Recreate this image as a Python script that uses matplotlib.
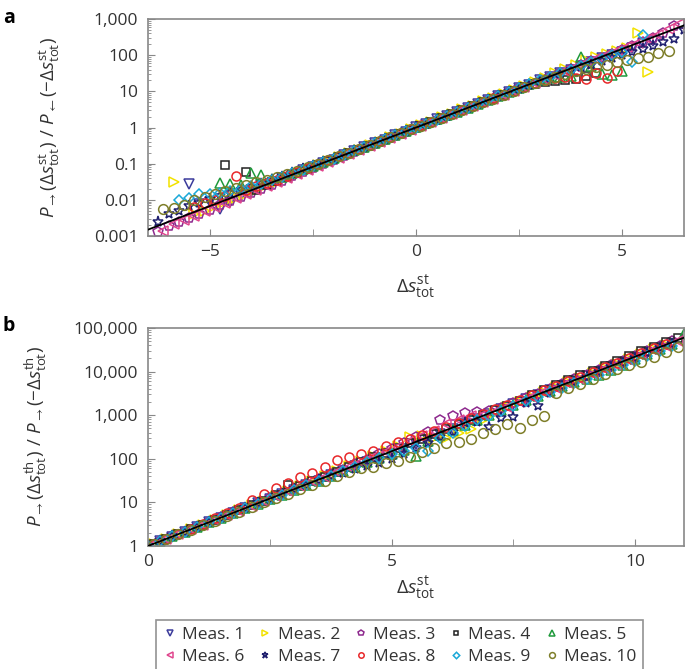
import numpy as np
import matplotlib
matplotlib.use("Agg")
import matplotlib.pyplot as plt
from matplotlib.ticker import LogLocator, FuncFormatter, NullFormatter

nan = np.nan

# ---- panel a : bin centres (two interleaved bin grids) ----
xa_A = [-6.25, -6.0, -5.75, -5.5, -5.25, -5.0, -4.75, -4.5, -4.25, -4.0,
        -3.75, -3.5, -3.25, -3.0, -2.75, -2.5, -2.25, -2.0, -1.75, -1.5,
        -1.25, -1.0, -0.75, -0.5, -0.25, 0.0, 0.25, 0.5, 0.75, 1.0,
        1.25, 1.5, 1.75, 2.0, 2.25, 2.5, 2.75, 3.0, 3.25, 3.5,
        3.75, 4.0, 4.25, 4.5, 4.75, 5.0, 5.25, 5.5, 5.75, 6.0,
        6.25, 6.5]
xa_B = [-6.375, -6.125, -5.875, -5.625, -5.375, -5.125, -4.875, -4.625, -4.375, -4.125,
        -3.875, -3.625, -3.375, -3.125, -2.875, -2.625, -2.375, -2.125, -1.875, -1.625,
        -1.375, -1.125, -0.875, -0.625, -0.375, -0.125, 0.125, 0.375, 0.625, 0.875,
        1.125, 1.375, 1.625, 1.875, 2.125, 2.375, 2.625, 2.875, 3.125, 3.375,
        3.625, 3.875, 4.125, 4.375, 4.625, 4.875, 5.125, 5.375, 5.625, 5.875,
        6.125, 6.375]

# log10 of the ratio
a1 = [nan, nan, nan, -1.56, -2.12, -2.05, -2.25, -2.05, -1.90, -1.78,
      -1.60, -1.55, -1.40, -1.33, -1.17, -1.10, -0.97, -0.89, -0.75, -0.66,
      -0.55, -0.42, -0.34, -0.21, -0.12, 0.01, 0.10, 0.23, 0.32, 0.44,
      0.53, 0.66, 0.75, 0.88, 0.97, 1.10, 1.18, 1.31, 1.39, 1.50,
      1.60, 1.70, 1.80, 1.92, 2.00, 2.10, 2.20, 2.33, 2.40, nan,
      nan, nan]
a2 = [nan, nan, -1.50, nan, -2.38, -2.30, -2.18, -2.06, -1.95, -1.84,
      -1.72, -1.60, -1.50, -1.38, -1.27, -1.15, -1.04, -0.93, -0.82, -0.71,
      -0.61, -0.49, -0.39, -0.27, -0.17, -0.05, 0.06, 0.16, 0.28, 0.38,
      0.50, 0.60, 0.72, 0.82, 0.93, 1.04, 1.15, 1.27, 1.38, 1.50,
      1.62, 1.74, 1.86, 1.95, 2.04, 2.12, 2.20, 2.61, 1.54, nan,
      nan, nan]
a3 = [-2.88, -2.72, -2.62, -2.50, -2.38, -2.27, -2.15, -2.04, -1.93, -1.82,
      -1.70, -1.58, -1.47, -1.35, -1.23, -1.12, -1.01, -0.90, -0.78, -0.67,
      -0.56, -0.45, -0.34, -0.23, -0.12, -0.01, 0.10, 0.21, 0.32, 0.42,
      0.53, 0.64, 0.75, 0.86, 0.97, 1.08, 1.18, 1.29, 1.40, 1.51,
      1.62, 1.72, 1.83, 1.93, 2.03, 2.14, 2.25, 2.36, 2.47, 2.62,
      2.80, nan]
a4 = [nan, nan, nan, nan, nan, nan, nan, -1.03, nan, -1.23,
      -1.72, -1.60, -1.49, -1.37, -1.26, -1.15, -1.04, -0.93, -0.82, -0.71,
      -0.61, -0.50, -0.39, -0.28, -0.17, -0.06, 0.04, 0.15, 0.26, 0.37,
      0.48, 0.59, 0.70, 0.80, 0.91, 1.01, 1.11, 1.20, 1.26, 1.29,
      1.30, 1.34, 1.43, 1.52, nan, nan, nan, nan, nan, nan,
      nan, nan]
a5 = [nan, nan, nan, nan, nan, nan, -1.53, -1.55, -1.60, -1.25,
      -1.30, -1.42, -1.36, -1.27, -1.16, -1.06, -0.95, -0.85, -0.74, -0.63,
      -0.53, -0.42, -0.32, -0.21, -0.10, 0.01, 0.12, 0.23, 0.34, 0.44,
      0.55, 0.66, 0.77, 0.88, 0.99, 1.10, 1.21, 1.32, 1.38, 1.40,
      1.42, 1.95, 1.70, 1.48, 1.45, 1.56, nan, nan, nan, nan,
      nan, nan]
a6 = [nan, -2.86, -2.68, -2.56, -2.44, -2.32, -2.20, -2.08, -1.96, -1.85,
      -1.73, -1.62, -1.50, -1.39, -1.28, -1.17, -1.06, -0.94, -0.83, -0.72,
      -0.62, -0.51, -0.40, -0.29, -0.17, -0.06, 0.04, 0.15, 0.26, 0.37,
      0.48, 0.59, 0.70, 0.80, 0.91, 1.02, 1.13, 1.24, 1.35, 1.46,
      1.56, 1.67, 1.78, 1.89, 2.00, 2.11, 2.22, 2.33, 2.44, 2.56,
      2.72, 2.85]
a7 = [-2.60, -2.40, -2.30, -2.18, -2.08, -1.98, -1.90, -1.80, -1.72, -1.64,
      -1.55, -1.46, -1.36, -1.26, -1.16, -1.06, -0.96, -0.86, -0.75, -0.64,
      -0.53, -0.43, -0.32, -0.21, -0.10, 0.01, 0.11, 0.22, 0.33, 0.43,
      0.54, 0.65, 0.76, 0.86, 0.97, 1.07, 1.18, 1.28, 1.38, 1.48,
      1.58, 1.66, 1.74, 1.83, 1.92, 2.00, 2.08, 2.17, 2.26, 2.36,
      2.44, 2.70]
a8 = [nan, nan, nan, nan, -2.20, -2.10, -2.00, -1.90, -1.34, -1.72,
      -1.63, -1.54, -1.44, -1.34, -1.23, -1.12, -1.02, -0.91, -0.80, -0.70,
      -0.59, -0.48, -0.37, -0.26, -0.16, -0.05, 0.06, 0.16, 0.27, 0.38,
      0.49, 0.60, 0.70, 0.81, 0.91, 1.02, 1.12, 1.22, 1.30, 1.36,
      1.40, 1.38, 1.34, 1.50, 1.37, 1.55, nan, nan, nan, nan,
      nan, nan]
a9 = [nan, nan, -2.00, -1.95, -1.84, -1.85, -1.80, -1.75, -1.70, -1.62,
      -1.55, -1.46, -1.37, -1.27, -1.17, -1.07, -0.96, -0.86, -0.75, -0.64,
      -0.53, -0.43, -0.32, -0.21, -0.10, 0.00, 0.11, 0.22, 0.33, 0.43,
      0.54, 0.65, 0.76, 0.87, 0.97, 1.08, 1.19, 1.30, 1.40, 1.50,
      1.60, 1.70, 1.80, 1.90, 2.00, 2.08, 1.81, 2.56, nan, nan,
      nan, nan]
a10 = [nan, -2.25, -2.22, -2.15, -2.00, -1.92, -1.85, -1.76, -1.68, -1.60,
       -1.52, -1.44, -1.36, -1.28, -1.19, -1.10, -1.00, -0.90, -0.80, -0.70,
       -0.59, -0.49, -0.38, -0.27, -0.16, -0.05, 0.05, 0.16, 0.27, 0.38,
       0.48, 0.59, 0.70, 0.80, 0.91, 1.01, 1.11, 1.22, 1.31, 1.40,
       1.48, 1.56, 1.62, 1.68, 1.74, 1.80, 1.86, 1.92, 1.95, 2.05,
       2.12, nan]

# theory line, panel a (end points)
line_a_x = [-6.5, 6.5]
line_a_y = [0.0015, 665]

# ---- panel b ----
xb_A = [0.0, 0.25, 0.5, 0.75, 1.0, 1.25, 1.5, 1.75, 2.0, 2.25,
        2.5, 2.75, 3.0, 3.25, 3.5, 3.75, 4.0, 4.25, 4.5, 4.75,
        5.0, 5.25, 5.5, 5.75, 6.0, 6.25, 6.5, 6.75, 7.0, 7.25,
        7.5, 7.75, 8.0, 8.25, 8.5, 8.75, 9.0, 9.25, 9.5, 9.75,
        10.0, 10.25, 10.5, 10.75, 11.0]
xb_B = [0.125, 0.375, 0.625, 0.875, 1.125, 1.375, 1.625, 1.875, 2.125, 2.375,
        2.625, 2.875, 3.125, 3.375, 3.625, 3.875, 4.125, 4.375, 4.625, 4.875,
        5.125, 5.375, 5.625, 5.875, 6.125, 6.375, 6.625, 6.875, 7.125, 7.375,
        7.625, 7.875, 8.125, 8.375, 8.625, 8.875, 9.125, 9.375, 9.625, 9.875,
        10.125, 10.375, 10.625, 10.875]

b1 = [0.00, 0.11, 0.21, 0.33, 0.43, 0.54, 0.64, 0.76, 0.86, 0.98,
      1.08, 1.19, 1.29, 1.40, 1.50, 1.62, 1.72, 1.83, 1.92, 2.02,
      2.12, 2.22, 2.33, 2.44, 2.56, 2.68, 2.80, 2.92, 3.03, 3.14,
      3.25, 3.36, 3.46, 3.57, 3.68, 3.79, 3.90, 4.00, 4.10, 4.20,
      4.31, 4.42, 4.52, 4.63, nan]
b2 = [0.05, 0.16, 0.27, 0.38, 0.49, 0.60, 0.71, 0.82, 0.93, 1.04,
      1.15, 1.27, 1.38, 1.50, 1.60, 1.72, 1.84, 1.95, 2.07, 2.18,
      2.30, 2.50, 2.52, 2.48, 2.48, 2.60, 2.68, 2.90, 3.05, 3.18,
      3.30, 3.42, 3.53, 3.64, 3.75, 3.85, 3.96, 4.07, 4.18, 4.29,
      4.40, 4.51, 4.62, nan]
b3 = [0.00, 0.11, 0.22, 0.33, 0.44, 0.55, 0.66, 0.77, 0.88, 0.99,
      1.10, 1.20, 1.31, 1.42, 1.53, 1.64, 1.75, 1.87, 1.98, 2.10,
      2.22, 2.36, 2.50, 2.62, 2.88, 2.98, 3.04, 3.07, 3.10, 3.17,
      3.28, 3.39, 3.49, 3.60, 3.71, 3.82, 3.93, 4.03, 4.14, 4.25,
      4.36, 4.47, 4.58, 4.69, nan]
b4 = [0.05, 0.16, 0.27, 0.38, 0.49, 0.60, 0.71, 0.82, 0.93, 1.04,
      1.16, 1.40, 1.38, 1.48, 1.58, 1.70, 1.82, 1.92, 2.03, 2.14,
      2.25, 2.35, 2.46, 2.57, 2.68, 2.79, 2.89, 3.00, 3.11, 3.22,
      3.33, 3.46, 3.58, 3.69, 3.80, 3.91, 4.02, 4.13, 4.24, 4.35,
      4.46, 4.57, 4.68, 4.78]
b5 = [0.00, 0.11, 0.22, 0.33, 0.43, 0.54, 0.65, 0.76, 0.87, 0.97,
      1.08, 1.18, 1.29, 1.40, 1.50, 1.61, 1.72, 1.82, 1.92, 2.02,
      2.12, 2.20, 2.07, 2.40, 2.55, 2.66, 2.78, 2.90, 3.01, 3.12,
      3.23, 3.34, 3.44, 3.55, 3.66, 3.76, 3.82, 3.92, 4.03, 4.14,
      4.28, 4.40, 4.52, 4.64, 4.85]
b6 = [0.05, 0.16, 0.27, 0.38, 0.49, 0.60, 0.71, 0.81, 0.92, 1.03,
      1.14, 1.25, 1.37, 1.48, 1.59, 1.70, 1.81, 1.92, 2.04, 2.15,
      2.26, 2.40, 2.52, 2.64, 2.79, 2.90, 2.98, 3.00, 3.08, 3.19,
      3.30, 3.41, 3.52, 3.63, 3.74, 3.84, 3.95, 4.06, 4.16, 4.27,
      4.38, 4.49, 4.59, 4.70]
b7 = [0.00, 0.11, 0.22, 0.33, 0.43, 0.54, 0.65, 0.76, 0.87, 0.98,
      1.08, 1.19, 1.30, 1.40, 1.51, 1.61, 1.68, 1.76, 1.84, 1.90,
      2.00, 2.12, 2.24, 2.36, 2.50, 2.62, 2.82, 2.85, 2.73, 2.94,
      2.96, 3.28, 3.21, 3.50, 3.66, 3.77, 3.88, 3.99, 4.10, 4.20,
      4.31, 4.42, 4.53, 4.64, nan]
b8 = [0.05, 0.16, 0.28, 0.39, 0.51, 0.63, 0.75, 0.88, 1.05, 1.20,
      1.32, 1.45, 1.58, 1.68, 1.80, 1.98, 2.05, 2.10, 2.18, 2.30,
      2.38, 2.45, 2.55, 2.63, 2.73, 2.83, 2.93, 3.03, 3.13, 3.24,
      3.35, 3.46, 3.57, 3.67, 3.78, 3.88, 3.99, 4.10, 4.20, 4.31,
      4.42, 4.53, 4.63, nan]
b9 = [0.00, 0.11, 0.22, 0.33, 0.43, 0.54, 0.65, 0.76, 0.86, 0.97,
      1.07, 1.18, 1.29, 1.40, 1.50, 1.61, 1.71, 1.82, 1.92, 2.02,
      2.10, 2.18, 2.25, 2.18, 2.48, 2.60, 2.76, 2.88, 2.99, 3.10,
      3.21, 3.32, 3.42, 3.53, 3.63, 3.73, 3.83, 3.93, 4.04, 4.14,
      4.24, 4.35, 4.46, 4.58, nan]
b10 = [0.05, 0.16, 0.27, 0.37, 0.48, 0.58, 0.69, 0.79, 0.90, 1.00,
       1.10, 1.20, 1.30, 1.40, 1.50, 1.60, 1.70, 1.78, 1.80, 1.90,
       1.95, 2.05, 2.15, 2.25, 2.36, 2.38, 2.46, 2.58, 2.68, 2.80,
       2.70, 2.90, 2.98, 3.50, 3.62, 3.72, 3.84, 3.94, 4.06, 4.16,
       4.22, 4.34, 4.45, 4.56]

line_b_x = [0, 11]
line_b_y = [1, 59900]

labels = ["Meas. %d" % k for k in range(1, 11)]
markers = ["v", ">", "p", "s", "^", "<", "*", "o", "D", "o"]
msizes = [7, 7, 7, 6, 7, 7, 8, 6.5, 5.5, 7]
colors = ["#3c3c9c", "#f2e200", "#8e2a8e", "#222222", "#1f9a3c",
          "#e0468e", "#1f1f6e", "#e8282a", "#1aa8d8", "#7e7e2a"]

series_a = [a1, a2, a3, a4, a5, a6, a7, a8, a9, a10]
series_b = [b1, b2, b3, b4, b5, b6, b7, b8, b9, b10]

plt.rcParams["font.family"] = ["Open Sans", "DejaVu Sans"]
plt.rcParams["mathtext.fontset"] = "custom"
plt.rcParams["mathtext.rm"] = "Open Sans"
plt.rcParams["mathtext.it"] = "Open Sans:italic"
plt.rcParams["mathtext.fallback"] = "stixsans"

text_col = "#333333"
spine_col = "#888888"


def fmt(v, pos):
    if v >= 1:
        return "{:,.0f}".format(v)
    return "{:g}".format(v)


def style_axes(ax, xmaj, xmin):
    ax.set_yscale("log")
    for s in ax.spines.values():
        s.set_color(spine_col)
        s.set_linewidth(1.2)
    ax.set_xticks(xmaj)
    ax.set_xticks(xmin, minor=True)
    ax.yaxis.set_major_locator(LogLocator(base=10))
    ax.yaxis.set_minor_locator(LogLocator(base=10, subs=np.arange(2, 10)))
    ax.yaxis.set_major_formatter(FuncFormatter(fmt))
    ax.yaxis.set_minor_formatter(NullFormatter())
    ax.tick_params(which="both", direction="in", top=False, right=False,
                   color=spine_col, labelsize=12.5, labelcolor=text_col)
    ax.tick_params(axis="y", which="major", length=5, pad=7)
    ax.tick_params(axis="y", which="minor", length=2.5)
    ax.tick_params(axis="x", which="both", length=5, pad=6)


fig = plt.figure(figsize=(6.85, 6.69), dpi=100)
ax_a = fig.add_axes([0.216, 0.6472, 0.7825, 0.3244])
ax_b = fig.add_axes([0.216, 0.1839, 0.7825, 0.3259])

handles = []
for k in range(10):
    xa = xa_A if k % 2 == 0 else xa_B
    xb = xb_A if k % 2 == 0 else xb_B
    kw = dict(linestyle="none", marker=markers[k], ms=msizes[k], mfc="none",
              mec=colors[k], mew=1.1)
    ax_a.plot(xa, 10 ** np.array(series_a[k]), **kw)
    h, = ax_b.plot(xb, 10 ** np.array(series_b[k]), label=labels[k], **kw)
    handles.append(h)

ax_a.plot(line_a_x, line_a_y, color="black", lw=1.3, zorder=5)
ax_b.plot(line_b_x, line_b_y, color="black", lw=1.3, zorder=5)

style_axes(ax_a, [-5, 0, 5], [-2.5, 2.5])
ax_a.set_xlim(-6.5, 6.5)
ax_a.set_ylim(0.001, 1000)

style_axes(ax_b, [0, 5, 10], [2.5, 7.5])
ax_b.set_xlim(0, 11)
ax_b.set_ylim(1, 100000)

xl = r"$\Delta s^{\mathrm{st}}_{\mathrm{tot}}$"
ax_a.set_xlabel(xl, fontsize=14, color=text_col)
ax_a.xaxis.set_label_coords(0.5, -0.17)
ax_b.set_xlabel(xl, fontsize=14, color=text_col)
ax_b.xaxis.set_label_coords(0.5, -0.13)

ax_a.set_ylabel(r"$P_{\rightarrow}(\Delta s^{\mathrm{st}}_{\mathrm{tot}})\ /\ "
                r"P_{\leftarrow}(-\Delta s^{\mathrm{st}}_{\mathrm{tot}})$",
                fontsize=13.5, color=text_col)
ax_a.yaxis.set_label_coords(-0.16, 0.5)
ax_b.set_ylabel(r"$P_{\rightarrow}(\Delta s^{\mathrm{th}}_{\mathrm{tot}})\ /\ "
                r"P_{\rightarrow}(-\Delta s^{\mathrm{th}}_{\mathrm{tot}})$",
                fontsize=13.5, color=text_col)
ax_b.yaxis.set_label_coords(-0.185, 0.5)

fig.text(0.004, 0.988, "a", fontsize=14, fontweight="bold", va="top")
fig.text(0.004, 0.527, "b", fontsize=14, fontweight="bold", va="top")

# legend: rows Meas.1-5 / Meas.6-10 (matplotlib fills column first)
order = [0, 5, 1, 6, 2, 7, 3, 8, 4, 9]
leg = fig.legend([handles[i] for i in order], [labels[i] for i in order],
                 ncol=5, loc="lower left", mode="expand",
                 bbox_to_anchor=(0.228, -0.004, 0.711, 0.078),
                 frameon=True, fancybox=False, edgecolor="#777777",
                 fontsize=12.5, handlelength=0.8, handletextpad=0.3,
                 borderaxespad=0, borderpad=0.4, labelspacing=0.3,
                 markerscale=0.6)
leg.get_frame().set_linewidth(1.2)
for t in leg.get_texts():
    t.set_color(text_col)

fig.savefig("out.png", dpi=100)
